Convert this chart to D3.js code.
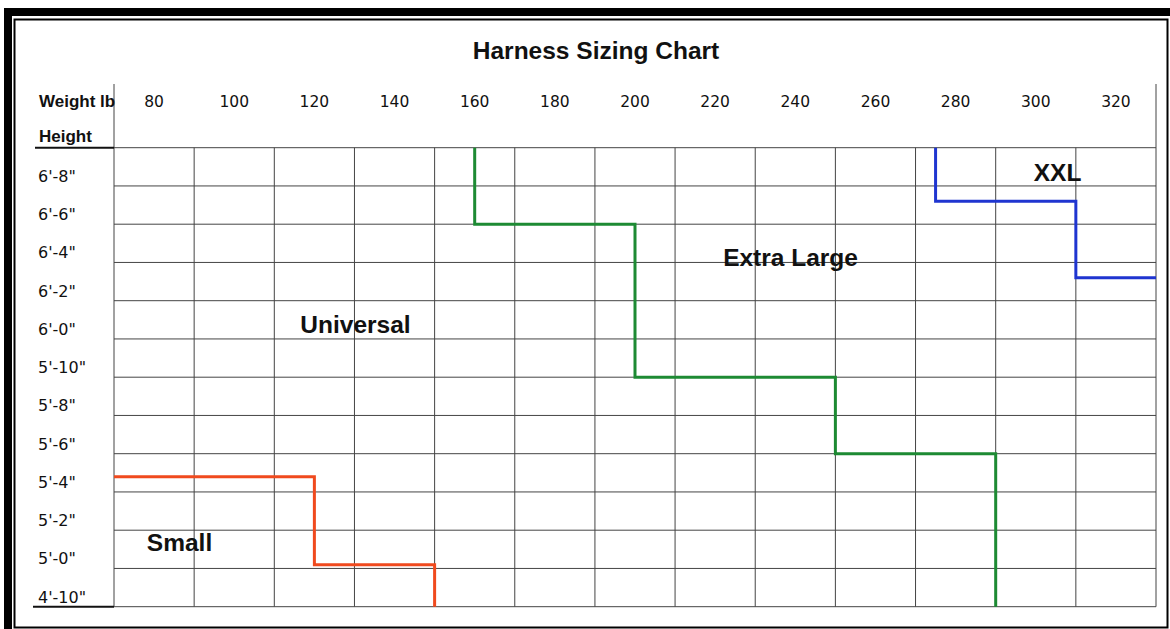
<!DOCTYPE html>
<html>
<head>
<meta charset="utf-8">
<script src="https://cdn.jsdelivr.net/npm/d3@7"></script>
<style>
  html, body { margin: 0; padding: 0; background: #fff; }
  svg { display: block; }
</style>
</head>
<body>
<div id="chart"></div>
<script>
// weights shown in the header row (lb)
var weightTicks = [80, 100, 120, 140, 160, 180, 200, 220, 240, 260, 280, 300, 320];
// heights for each row, in inches, with their labels
var heightTicks = [80, 78, 76, 74, 72, 70, 68, 66, 64, 62, 60, 58];
var heightLabels = ["6'-8\"", "6'-6\"", "6'-4\"", "6'-2\"", "6'-0\"", "5'-10\"", "5'-8\"", "5'-6\"", "5'-4\"", "5'-2\"", "5'-0\"", "4'-10\""];

// size boundaries: [weight lb, height in]
var smallEdge = [[70, 64.8], [120, 64.8], [120, 60.2], [150, 60.2], [150, 58]];
var xlEdge = [[160, 82], [160, 78], [200, 78], [200, 70], [250, 70], [250, 66], [290, 66], [290, 58]];
var xxlEdge = [[275, 82], [275, 79.2], [310, 79.2], [310, 75.2], [330, 75.2]];

// size names and where they sit: [weight lb, height in]
var sizeNames = ["Universal", "Extra Large", "XXL", "Small"];
var sizeSpots = [[116.5, 72.3], [222, 75.8], [299.5, 80.26], [78.2, 60.9]];

var width = 1170, height = 629;

var svg = d3.select("#chart").append("svg")
    .attr("width", width)
    .attr("height", height);

// frame
svg.append("rect").attr("x", 4).attr("y", 8).attr("width", width - 4).attr("height", 8).attr("fill", "#000");
svg.append("rect").attr("x", 4).attr("y", 8).attr("width", 8).attr("height", height - 8).attr("fill", "#000");
svg.append("rect")
    .attr("x", 14.5).attr("y", 19.5)
    .attr("width", 1167.5 - 14.5).attr("height", 627.5 - 19.5)
    .attr("fill", "none").attr("stroke", "#000").attr("stroke-width", 2);

var x = d3.scaleLinear().domain([70, 330]).range([114, 1156]);
var y = d3.scaleLinear().domain([82, 58]).range([147.7, 606.7]);

var bold = "Liberation Sans, Arial, sans-serif";
var plain = "DejaVu Sans, Verdana, sans-serif";

// title
svg.append("text")
    .attr("x", 596).attr("y", 59)
    .attr("text-anchor", "middle")
    .attr("font-family", bold)
    .attr("font-weight", "bold")
    .attr("font-size", 24.5)
    .attr("fill", "#111")
    .text("Harness Sizing Chart");

// grid
var grid = svg.append("g").attr("stroke", "#444").attr("stroke-width", 1);
grid.selectAll("line.v")
    .data(d3.range(70, 331, 20))
    .join("line")
    .attr("class", "v")
    .attr("x1", d => x(d)).attr("x2", d => x(d))
    .attr("y1", d => (d === 70 || d === 330) ? 84 : y(82))
    .attr("y2", y(58));
grid.selectAll("line.h")
    .data(d3.range(82, 57, -2))
    .join("line")
    .attr("class", "h")
    .attr("x1", x(70)).attr("x2", x(330))
    .attr("y1", d => y(d)).attr("y2", d => y(d));

// underlines on the left column
svg.append("line").attr("x1", 35).attr("x2", x(70)).attr("y1", y(82)).attr("y2", y(82))
    .attr("stroke", "#111").attr("stroke-width", 2);
svg.append("line").attr("x1", 33).attr("x2", x(70)).attr("y1", y(58)).attr("y2", y(58))
    .attr("stroke", "#111").attr("stroke-width", 2);

// header labels
svg.append("text").attr("x", 39).attr("y", 107)
    .attr("font-family", bold).attr("font-weight", "bold").attr("font-size", 17)
    .attr("fill", "#111").text("Weight lb");
svg.append("text").attr("x", 39).attr("y", 142)
    .attr("font-family", bold).attr("font-weight", "bold").attr("font-size", 17)
    .attr("fill", "#111").text("Height");

svg.append("g").selectAll("text")
    .data(weightTicks)
    .join("text")
    .attr("x", d => x(d)).attr("y", 107)
    .attr("text-anchor", "middle")
    .attr("font-family", plain)
    .attr("font-size", 15.5)
    .attr("fill", "#111")
    .text(d => d);

svg.append("g").selectAll("text")
    .data(heightTicks)
    .join("text")
    .attr("x", 38).attr("y", d => y(d) - 4)
    .attr("font-family", plain)
    .attr("font-size", 16)
    .attr("fill", "#111")
    .text((d, i) => heightLabels[i]);

// size boundaries
var line = d3.line().x(d => x(d[0])).y(d => y(d[1]));
svg.append("path").attr("d", line(smallEdge)).attr("fill", "none").attr("stroke", "#f04a1e").attr("stroke-width", 3);
svg.append("path").attr("d", line(xlEdge)).attr("fill", "none").attr("stroke", "#1d8a33").attr("stroke-width", 3);
svg.append("path").attr("d", line(xxlEdge)).attr("fill", "none").attr("stroke", "#1f35d0").attr("stroke-width", 3);

// size names
svg.append("g").selectAll("text")
    .data(sizeNames)
    .join("text")
    .attr("x", (d, i) => x(sizeSpots[i][0]))
    .attr("y", (d, i) => y(sizeSpots[i][1]))
    .attr("font-family", bold)
    .attr("font-weight", "bold")
    .attr("font-size", 24.5)
    .attr("fill", "#111")
    .text(d => d);
</script>
</body>
</html>
